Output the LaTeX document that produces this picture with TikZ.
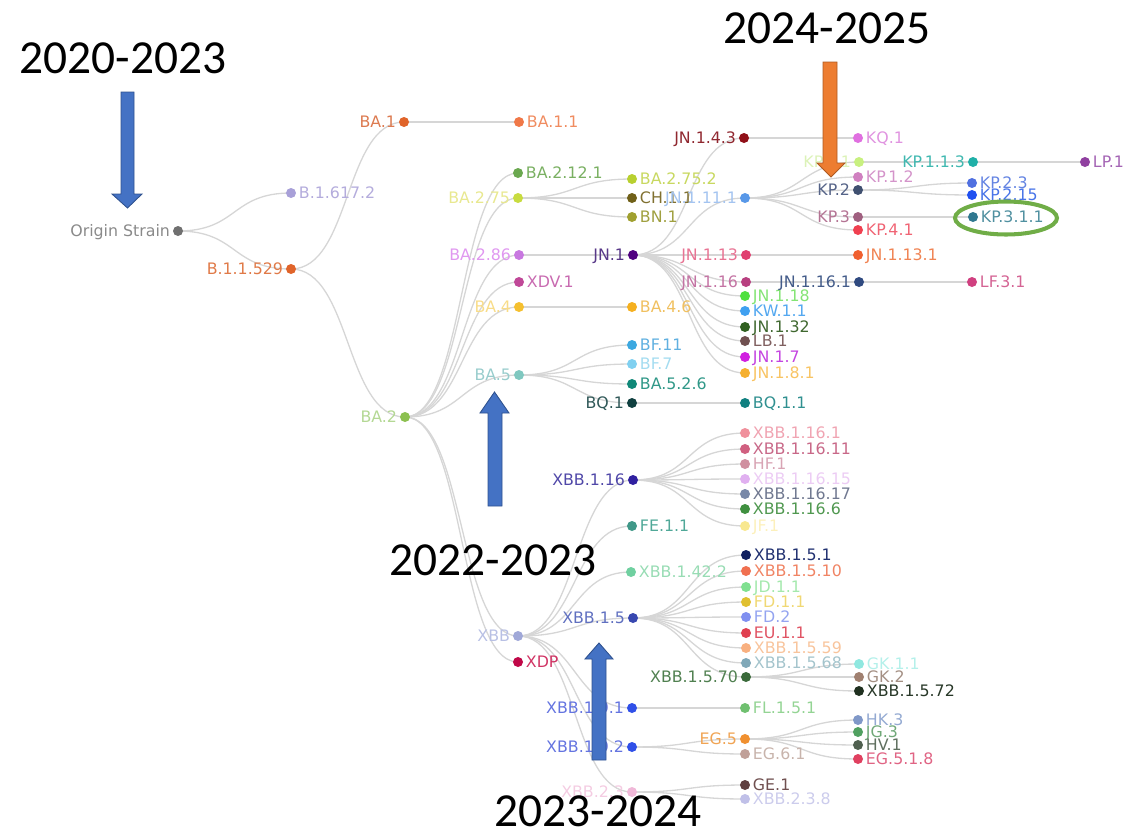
\documentclass[tikz,border=0pt]{standalone}
\usepackage{fontspec}
\setmainfont{DejaVu Sans}
\newfontfamily\yearfont{Carlito}
\pgfdeclarelayer{bg}
\pgfsetlayers{bg,main}
\definecolor{edgegray}{HTML}{D6D6D6}
\definecolor{arrblue}{HTML}{4472C4}
\definecolor{arrblueb}{HTML}{2F528F}
\definecolor{arrorange}{HTML}{ED7D31}
\definecolor{arrorangeb}{HTML}{AE5A21}
\definecolor{ringgreen}{HTML}{70AD47}
\tikzset{
  dot/.style={circle,inner sep=0pt,minimum size=0.2cm,draw=none},
  lab/.style={font=\fontsize{9}{10.5}\selectfont,inner sep=0.3pt,text height=6.6pt,text depth=0pt},
  edge/.style={draw=edgegray,line width=0.75pt},
  year/.style={font=\yearfont\fontsize{27}{30}\selectfont,inner sep=0pt,text=black},
  barrow/.style={fill=arrblue,draw=arrblueb,line width=0.5pt},
  oarrow/.style={fill=arrorange,draw=arrorangeb,line width=0.5pt}
}
\newcommand\vR[6]{%
  \definecolor{d#1}{HTML}{#4}\definecolor{t#1}{HTML}{#5}%
  \node[dot,fill=d#1] (#1) at (#2,#3) {};%
  \node[lab,text=t#1,anchor=west] (#1l) at ([xshift=1pt]#1.east) {#6};}
\newcommand\vL[6]{%
  \definecolor{d#1}{HTML}{#4}\definecolor{t#1}{HTML}{#5}%
  \node[dot,fill=d#1] (#1) at (#2,#3) {};%
  \node[lab,text=t#1,anchor=east] (#1l) at ([xshift=-1pt]#1.west) {#6};}
\begin{document}
\begin{tikzpicture}[x=0.02cm,y=-0.02cm]
\useasboundingbox (0,0) rectangle (1127,836);
% level 0-2
\vL{o}{178}{231}{707070}{8A8A8A}{Origin Strain}
\vR{bsix}{291}{193}{A8A0D8}{B4ACDC}{B.1.617.2}
\vL{bfive}{291}{269}{E0642A}{E07A48}{B.1.1.529}
\vL{ba1}{404}{122}{E0642A}{DC7A50}{BA.1}
\vL{ba2}{405}{417}{8CC050}{B4D894}{BA.2}
% level 3
\vR{ba11}{519}{122}{F07848}{F08C60}{BA.1.1}
\vR{ba2121}{518}{173}{6AA84F}{7AB062}{BA.2.12.1}
\vL{ba275}{518}{198}{C8DC40}{E8E890}{BA.2.75}
\vL{ba286}{519}{255}{C878E0}{E098F0}{BA.2.86}
\vR{xdv1}{519}{282}{C04898}{C86AB0}{XDV.1}
\vL{ba4}{519}{307}{F5C030}{F8DC88}{BA.4}
\vL{ba5}{519}{375}{80C8C0}{98CCCC}{BA.5}
\vL{xbb}{518}{636}{A0A8D8}{B8C0E4}{XBB}
\vR{xdp}{518}{662}{C00848}{D03464}{XDP}
% level 4
\vR{ba2752}{632}{179}{B8D030}{C8D860}{BA.2.75.2}
\vR{ch11}{632}{198}{706018}{807030}{CH.1.1}
\vR{bn1}{632}{217}{A0A030}{A0A040}{BN.1}
\vL{jn1}{633}{255}{500080}{583888}{JN.1}
\vR{ba46}{632}{307}{F5B020}{F0C060}{BA.4.6}
\vR{bf11}{632}{345}{3CA8E0}{60B0E0}{BF.11}
\vR{bf7}{632}{364}{80D0F0}{A4DCF0}{BF.7}
\vR{ba526}{632}{384}{108878}{309888}{BA.5.2.6}
\vL{bq1}{632}{403}{104040}{305858}{BQ.1}
\vL{xbb116}{633}{480}{3020A0}{5048A8}{XBB.1.16}
\vR{fe11}{632}{526}{409888}{50A898}{FE.1.1}
\vR{xbb1422}{631}{572}{70D0A0}{98DCB4}{XBB.1.42.2}
\vL{xbb15}{633}{618}{3848B0}{6070C0}{XBB.1.5}
\vL{xbb191}{632}{708}{3050E8}{6474E0}{XBB.1.9.1}
\vL{xbb192}{632}{747}{3050E8}{6474E0}{XBB.1.9.2}
\vL{xbb23}{632}{792}{F0B8D8}{F4CCE2}{XBB.2.3}
% level 5
\vL{jn143}{744}{138}{901018}{902830}{JN.1.4.3}
\vL{jn1111}{745}{198}{5898E8}{A4C4F0}{JN.1.11.1}
\vL{jn113}{746}{255}{E04070}{E87494}{JN.1.13}
\vL{jn116}{746}{282}{B84080}{C474A4}{JN.1.16}
\vR{jn118}{745}{296}{50E040}{84E474}{JN.1.18}
\vR{kw11}{745}{311}{40A0F0}{54A8F0}{KW.1.1}
\vR{jn132}{745}{327}{306020}{406830}{JN.1.32}
\vR{lb1}{745}{341}{705050}{806060}{LB.1}
\vR{jn17}{745}{357}{D020E0}{C444E0}{JN.1.7}
\vR{jn181}{745}{373}{F5B030}{F8C464}{JN.1.8.1}
\vR{bq11}{745}{403}{108080}{309090}{BQ.1.1}
\vR{xa}{745}{433}{F0909C}{F0A4B2}{XBB.1.16.1}
\vR{xb}{745}{449}{D06080}{C86888}{XBB.1.16.11}
\vR{hf1}{745}{464}{D090A0}{D8A4B4}{HF.1}
\vR{xc}{745}{479}{E0B0F0}{ECCCF4}{XBB.1.16.15}
\vR{xd}{745}{494}{7888A8}{707890}{XBB.1.16.17}
\vR{xe}{745}{509}{409040}{509850}{XBB.1.16.6}
\vR{jf1}{745}{526}{F8E890}{FCF0BC}{JF.1}
\vR{xf}{746}{555}{102060}{203070}{XBB.1.5.1}
\vR{xg}{746}{571}{F07050}{F08464}{XBB.1.5.10}
\vR{jd11}{746}{587}{80E090}{A4E8AC}{JD.1.1}
\vR{fd11}{746}{602}{E0C030}{F0D874}{FD.1.1}
\vR{fd2}{746}{617}{8090F0}{94A4F0}{FD.2}
\vR{eu11}{746}{633}{E04050}{E05464}{EU.1.1}
\vR{xh}{746}{648}{F8B080}{F8C49C}{XBB.1.5.59}
\vR{xi}{746}{663}{80A8B8}{A4C4CC}{XBB.1.5.68}
\vL{x1570}{746}{677}{3A6A3A}{508050}{XBB.1.5.70}
\vR{fl151}{745}{708}{70C070}{94D494}{FL.1.5.1}
\vL{eg5}{745}{739}{F09030}{F0A454}{EG.5}
\vR{eg61}{745}{754}{C0A098}{C8B4AC}{EG.6.1}
\vR{ge1}{745}{785}{604040}{705050}{GE.1}
\vR{x238}{745}{799}{C0C0E8}{CCCCEC}{XBB.2.3.8}
% level 6
\vR{kq1}{858}{138}{E070E0}{E094E0}{KQ.1}
\vL{kp11}{859}{162}{C8F080}{DCF2B8}{KP.1.1}
\vR{kp12}{858}{177}{D080C0}{D494CA}{KP.1.2}
\vL{kp2}{858}{190}{405070}{566488}{KP.2}
\vL{kp3}{858}{217}{A06080}{B47494}{KP.3}
\vR{kp41}{858}{230}{F04050}{F06474}{KP.4.1}
\vR{jn1131}{858}{255}{F06030}{F08454}{JN.1.13.1}
\vL{jn1161}{859}{282}{304A80}{445C8A}{JN.1.16.1}
\vR{gk11}{859}{664}{90E8E0}{B4F0EA}{GK.1.1}
\vR{gk2}{859}{677}{A08070}{A49084}{GK.2}
\vR{x1572}{859}{691}{203020}{283828}{XBB.1.5.72}
\vR{hk3}{858}{720}{8098C8}{94AAD2}{HK.3}
\vR{jg3}{858}{732}{50A060}{70A878}{JG.3}
\vR{hv1}{858}{745}{506050}{607060}{HV.1}
\vR{eg518}{858}{759}{E04060}{E06484}{EG.5.1.8}
% level 7-8
\vL{kp113}{973}{162}{20B0A8}{40B8B0}{KP.1.1.3}
\vR{kp23}{972}{183}{5070E0}{6484E2}{KP.2.3}
\vR{kp215}{972}{195}{2050F0}{4874E8}{KP.2.15}
\vR{kp311}{973}{217}{307890}{5090A0}{KP.3.1.1}
\vR{lf31}{972}{282}{D04080}{D46494}{LF.3.1}
\vR{lp1}{1085}{162}{9040A0}{A464B4}{LP.1}
% edges
\begin{pgfonlayer}{bg}
\foreach \a/\b in {o/bsix,o/bfive,bfive/ba1,bfive/ba2,ba1/ba11,
  ba2/ba2121,ba2/ba275,ba2/ba286,ba2/xdv1,ba2/ba4,ba2/ba5,ba2/xbb,ba2/xdp,
  ba275/ba2752,ba275/ch11,ba275/bn1,ba286/jn1,ba4/ba46,
  ba5/bf11,ba5/bf7,ba5/ba526,ba5/bq1,bq1/bq11,
  jn1/jn143,jn1/jn1111,jn1/jn113,jn1/jn116,jn1/jn118,jn1/kw11,jn1/jn132,jn1/lb1,jn1/jn17,jn1/jn181,
  jn143/kq1,jn1111/kp11,jn1111/kp12,jn1111/kp2,jn1111/kp3,jn1111/kp41,
  kp11/kp113,kp113/lp1,kp2/kp23,kp2/kp215,kp3/kp311,
  jn113/jn1131,jn116/jn1161,jn1161/lf31,
  xbb/xbb116,xbb/fe11,xbb/xbb1422,xbb/xbb15,xbb/xbb191,xbb/xbb192,xbb/xbb23,
  xbb116/xa,xbb116/xb,xbb116/hf1,xbb116/xc,xbb116/xd,xbb116/xe,xbb116/jf1,
  xbb15/xf,xbb15/xg,xbb15/jd11,xbb15/fd11,xbb15/fd2,xbb15/eu11,xbb15/xh,xbb15/xi,xbb15/x1570,
  x1570/gk11,x1570/gk2,x1570/x1572,xbb191/fl151,xbb192/eg5,xbb192/eg61,
  eg5/hk3,eg5/jg3,eg5/hv1,eg5/eg518,xbb23/ge1,xbb23/x238}
  \draw[edge] (\a.center) .. controls +(60,0) and +(-60,0) .. (\b.center);
\end{pgfonlayer}
% year labels
\node[year,anchor=base west] (y2020) at (19,73) {2020-2023};
\node[year,anchor=base west] (y2024) at (723,43) {2024-2025};
\node[year,anchor=base west] (y2022) at (389,575) {2022-2023};
\node[year,anchor=base west] (y2023) at (494,826) {2023-2024};
% block arrows
\draw[barrow] (121,92) -- (134,92) -- (134,194) -- (142,194) -- (127.5,208) -- (112,194) -- (121,194) -- cycle;
\draw[barrow] (488,506) -- (488,413) -- (480,413) -- (494.5,392) -- (509,413) -- (502,413) -- (502,506) -- cycle;
\draw[barrow] (592,760) -- (592,659) -- (585,659) -- (599,643) -- (613,659) -- (606,659) -- (606,760) -- cycle;
\draw[oarrow] (823,62) -- (837,62) -- (837,163) -- (845,163) -- (831,177) -- (817,163) -- (823,163) -- cycle;
% highlight ring
\draw[ringgreen,line width=2.3pt] (1006,218) ellipse [x radius=51, y radius=16.5];
\end{tikzpicture}
\end{document}
